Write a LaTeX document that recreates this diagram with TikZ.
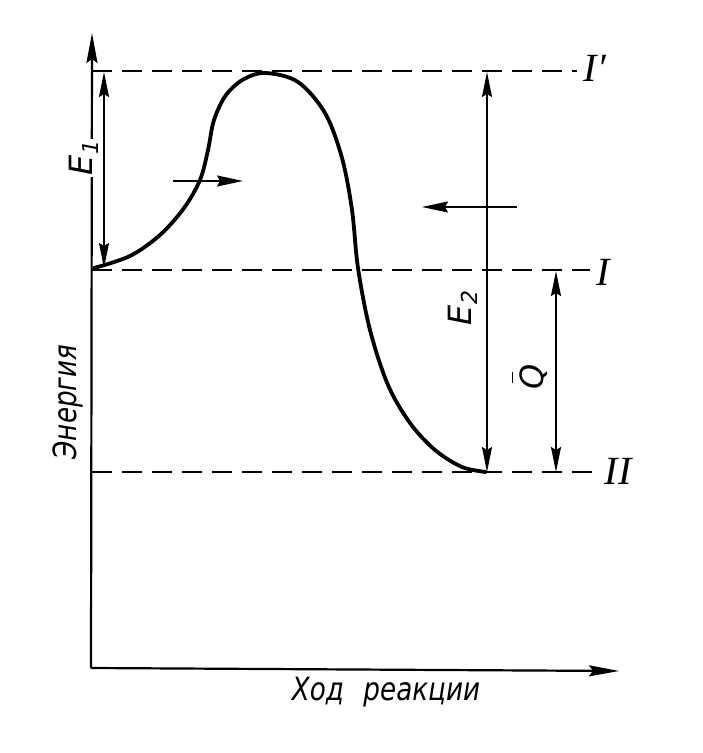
\documentclass[tikz,border=0pt]{standalone}
\usepackage{fontspec}
\setmainfont{DejaVu Sans}
\newfontfamily\dfont[FakeStretch=0.82]{DejaVu Sans}
\newfontfamily\rfont{Liberation Serif}
\usetikzlibrary{arrows.meta}
\begin{document}
\begin{tikzpicture}[x=1pt,y=-1pt,
  axisline/.style={line width=2.2pt, -{Stealth[length=30pt,width=11pt,inset=4pt]}},
  levelline/.style={line width=2.8pt, dash pattern=on 20pt off 10pt},
  curveline/.style={line width=3.8pt, line cap=round},
  dimline/.style={line width=1.5pt, {Stealth[length=25pt,width=10pt,inset=3pt]}-{Stealth[length=25pt,width=10pt,inset=3pt]}},
  dirline/.style={line width=1.8pt, -{Stealth[length=26pt,width=11pt,inset=3pt]}},
  bigtext/.style={font=\dfont\itshape\fontsize{32}{36}\selectfont, inner sep=1pt},
  lbltext/.style={font=\itshape\fontsize{32}{36}\selectfont, inner sep=1pt},
  romtext/.style={font=\rfont\itshape\fontsize{40}{42}\selectfont, inner sep=0pt}]
\useasboundingbox (0,0) rectangle (703,753);
\fill[white] (0,0) rectangle (703,753);
% axes
\coordinate (O) at (91,668);
\coordinate (ytop) at (92,33);
\coordinate (xend) at (619,671);
% level lines
\coordinate (a1) at (92,71);   \coordinate (a2) at (577,71);
\coordinate (b1) at (92,270);  \coordinate (b2) at (590,270);
\coordinate (c1) at (92,472);  \coordinate (c2) at (600,472);
\draw[levelline] (a1) -- (a2);
\draw[levelline] (b1) -- (b2);
\draw[levelline] (c1) -- (c2);
\node[romtext] (lIp) at (595,68) {I′};
\node[romtext] (lI) at (603,272) {I};
\node[romtext] (lII) at (618,471) {II};
% axes and E1 label over the axis
\draw[axisline] (O) -- (ytop);
\draw[axisline] (O) -- (xend);
\node[lbltext, rotate=90, fill=white, inner sep=2pt] (e1) at (84,158) {E\raisebox{-0.35ex}{\fontsize{22}{24}\selectfont 1}};
% dimension arrows
\coordinate (d1t) at (104,72);  \coordinate (d1b) at (104,268);
\coordinate (d2t) at (487,72);  \coordinate (d2b) at (487,472);
\coordinate (d3t) at (556,271); \coordinate (d3b) at (556,472);
\draw[dimline] (d1t) -- (d1b);
\draw[dimline] (d2t) -- (d2b);
\draw[dimline] (d3t) -- (d3b);
\node[lbltext, rotate=90] (e2) at (463,308) {E\raisebox{-0.35ex}{\fontsize{22}{24}\selectfont 2}};
\node[lbltext, rotate=90] (q) at (530,377) {\makebox[0pt][l]{\hspace{0.22em}\rule[0.95em]{0.32em}{1.5pt}}Q};
% direction arrows
\coordinate (r1) at (173,181); \coordinate (r2) at (243,181);
\coordinate (l1) at (517,207); \coordinate (l2) at (422,207);
\draw[dirline] (r1) -- (r2);
\draw[dirline] (l1) -- (l2);
% energy curve
\draw[curveline] plot[smooth, tension=0.55] coordinates {
 (94,268) (130,256) (160,235) (184,208) (200,180) (208,150) (214,120) (226,95) (244,79)
 (266,73) (298,82) (325,113) (342,158) (352,210) (358,268) (370,330)
 (388,385) (410,423) (435,450) (462,467) (486,472)};
% axis titles
\node[bigtext, rotate=90] (ylab) at (68,402) {Энергия};
\node[bigtext] (xlab) at (386,692) {Ход\hspace{0.35em} реакции};
\end{tikzpicture}
\end{document}
